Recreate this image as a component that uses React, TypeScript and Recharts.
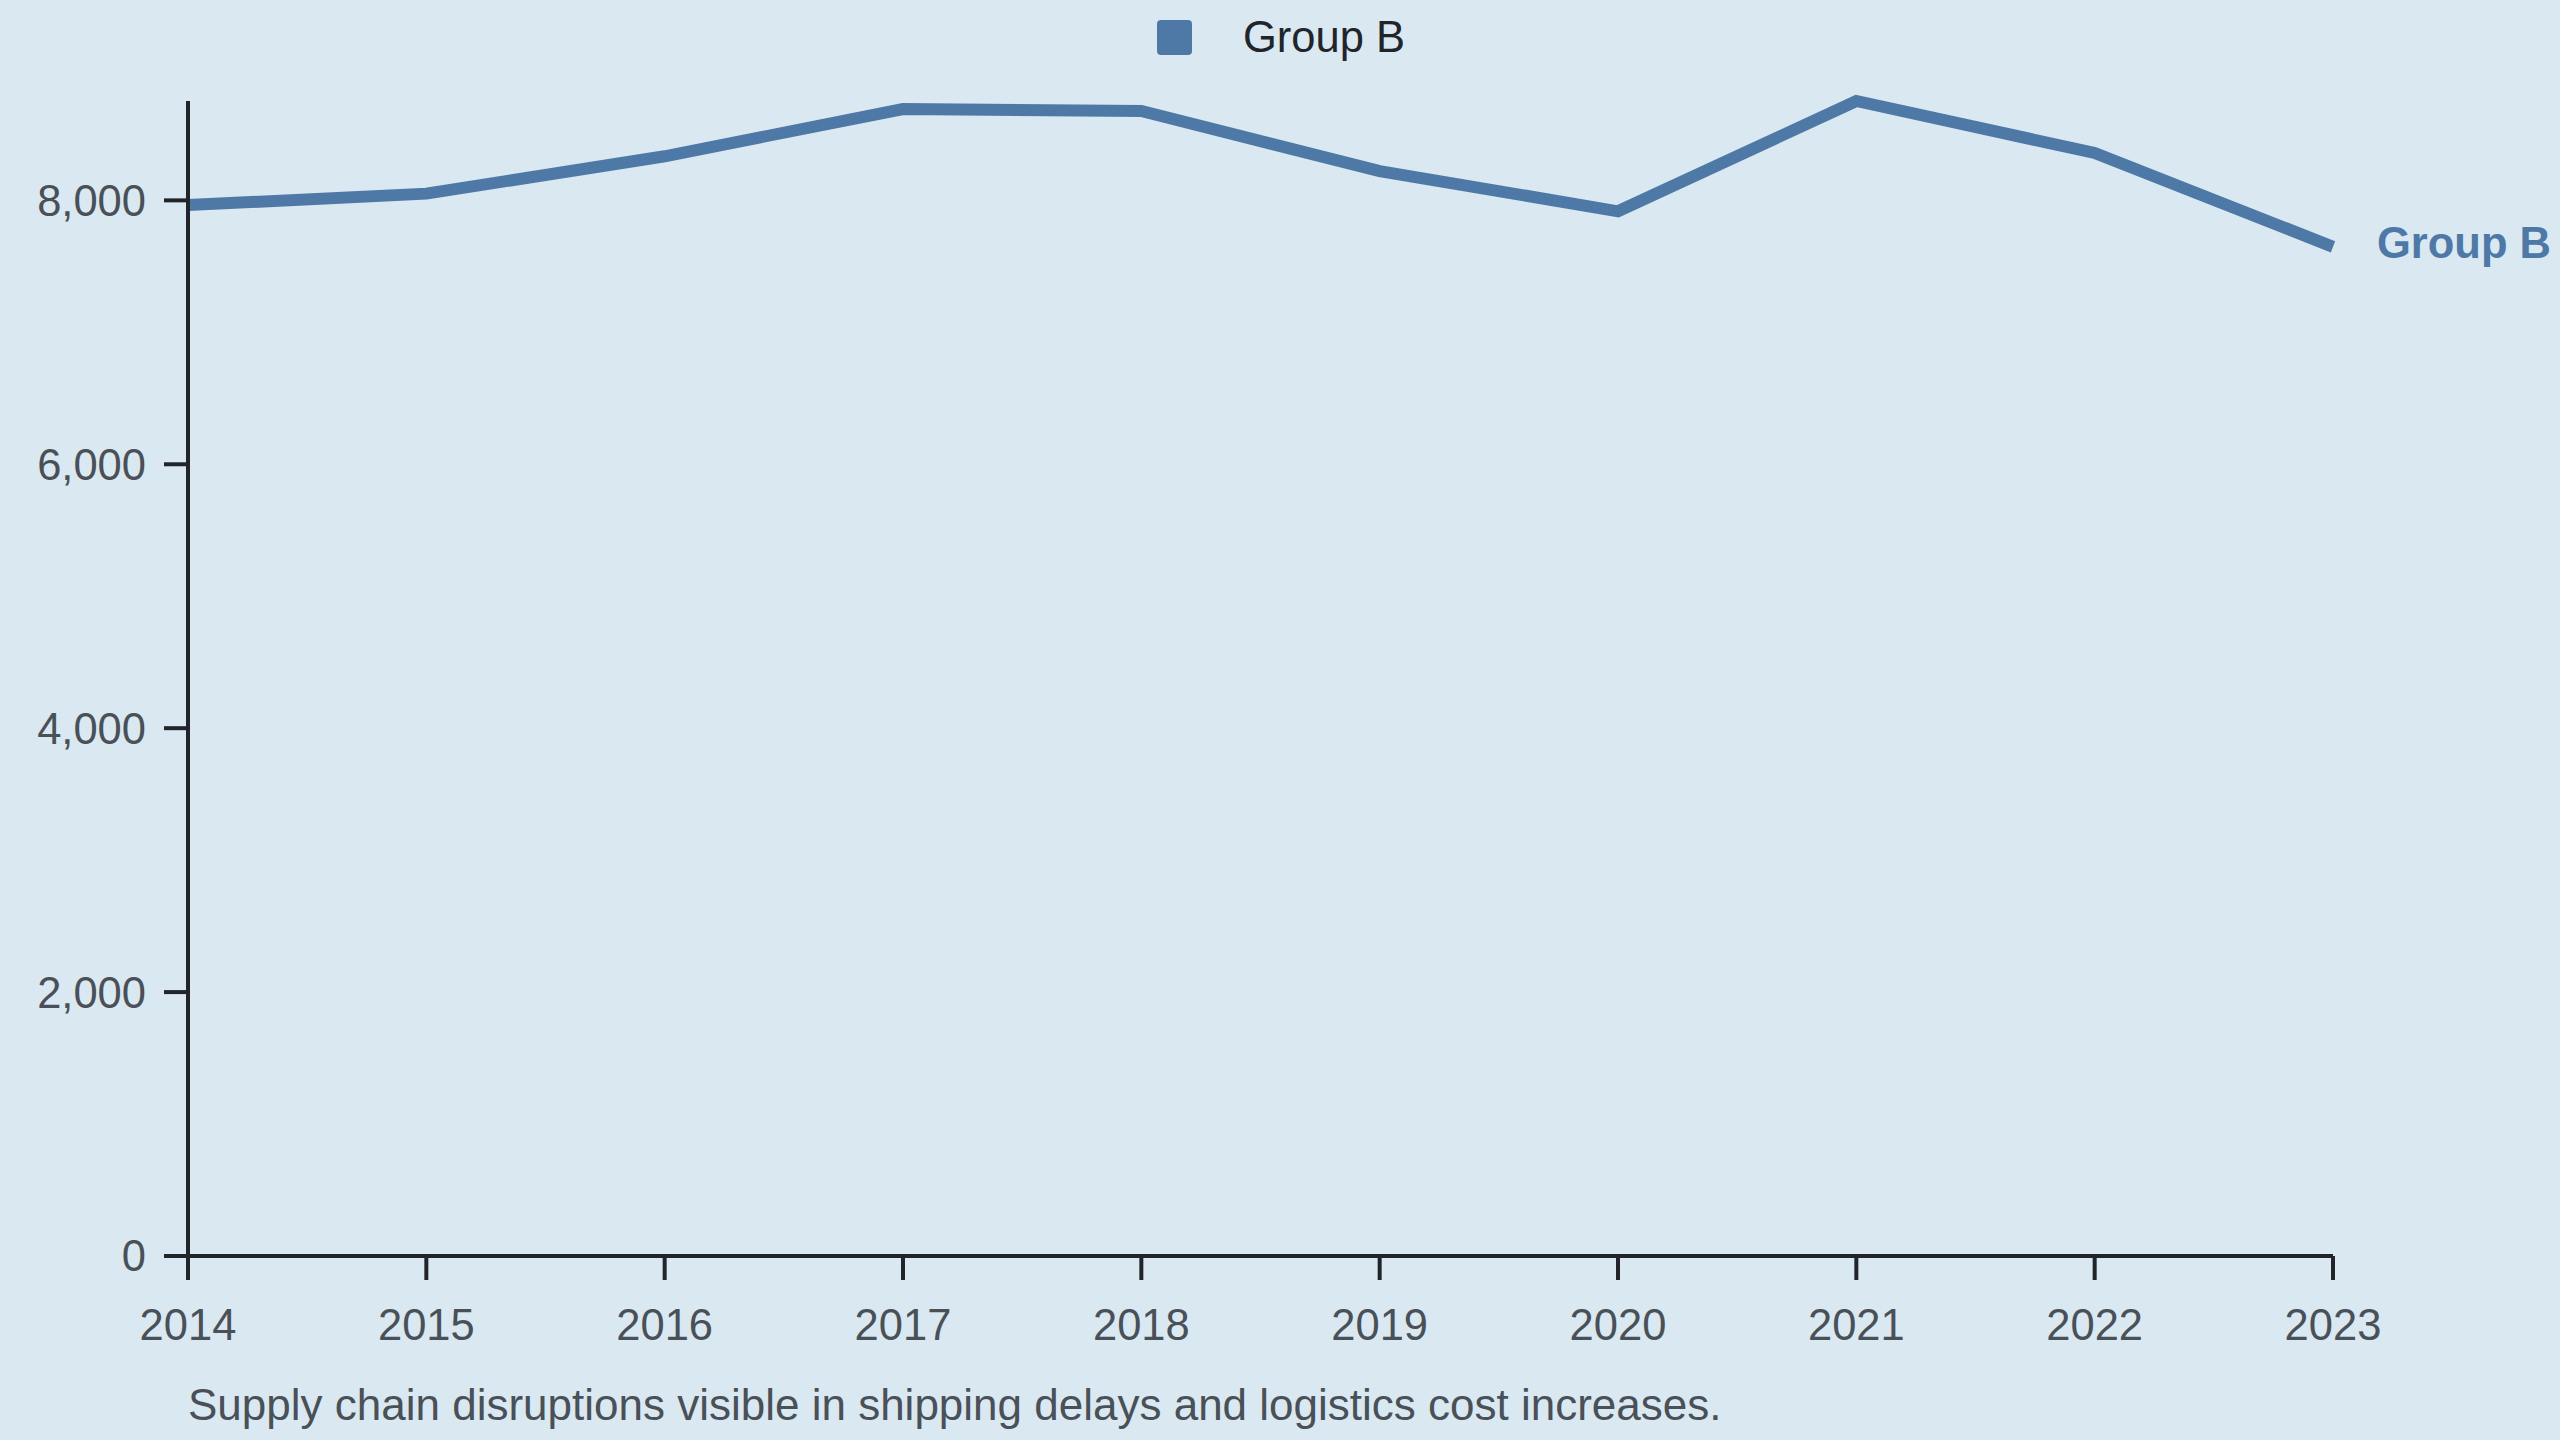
import React from 'react';
import { LineChart, Line, XAxis, YAxis, Legend } from 'recharts';

const years = ['2014', '2015', '2016', '2017', '2018', '2019', '2020', '2021', '2022', '2023'];
const groupB = [7964, 8051, 8334, 8692, 8677, 8222, 7917, 8753, 8359, 7648];
const yTicks = [0, 2000, 4000, 6000, 8000];
const seriesName = 'Group B';
const caption = 'Supply chain disruptions visible in shipping delays and logistics cost increases.';

const data = years.map((year, i) => ({ year, groupB: groupB[i] }));

const BG = '#d9e8f1';
const LINE = '#4e79a7';
const AXIS = '#212529';
const TICK_TEXT = '#495057';
const FONT = '"Liberation Sans", Arial, Helvetica, sans-serif';
const FS = 43.5;
const CAPTION_FS = 44;

const LegendContent = (props: any) => {
  const items = props.payload || [];
  return (
    <div style={{ position: 'relative', width: 2560, height: 80 }}>
      {items.map((it: any) => (
        <React.Fragment key={it.value}>
          <div
            style={{
              position: 'absolute',
              left: 1157,
              top: 20,
              width: 35,
              height: 35,
              borderRadius: 4,
              background: it.color,
            }}
          />
          <div
            style={{
              position: 'absolute',
              left: 1243,
              top: 16,
              fontSize: FS,
              lineHeight: 1,
              color: AXIS,
              whiteSpace: 'nowrap',
              fontFamily: FONT,
            }}
          >
            {it.value}
          </div>
        </React.Fragment>
      ))}
    </div>
  );
};

const EndLabel = (props: any) => {
  const { x, y, index } = props;
  if (index !== data.length - 1) return null;
  return (
    <text x={x + 44} y={y + 11} fill={LINE} fontSize={FS} fontWeight="bold" fontFamily={FONT} textAnchor="start">
      {seriesName}
    </text>
  );
};

export default function App() {
  return (
    <div
      style={{
        position: 'absolute',
        left: 0,
        top: 0,
        width: 2560,
        height: 1440,
        background: BG,
        fontFamily: FONT,
        overflow: 'hidden',
      }}
    >
      <LineChart width={2560} height={1440} data={data} margin={{ top: 101, right: 227, left: 0, bottom: 0 }}>
        <XAxis
          dataKey="year"
          interval={0}
          height={184}
          tickSize={24}
          tickMargin={29}
          axisLine={{ stroke: AXIS, strokeWidth: 4 }}
          tickLine={{ stroke: AXIS, strokeWidth: 4 }}
          tick={{ fill: TICK_TEXT, fontSize: FS, fontFamily: FONT }}
        />
        <YAxis
          width={188}
          domain={[0, 'dataMax']}
          ticks={yTicks}
          interval={0}
          tickSize={24}
          tickMargin={18}
          tickFormatter={(v: number) => v.toLocaleString('en-US')}
          axisLine={{ stroke: AXIS, strokeWidth: 4 }}
          tickLine={{ stroke: AXIS, strokeWidth: 4 }}
          tick={{ fill: TICK_TEXT, fontSize: FS, fontFamily: FONT }}
        />
        <Legend
          verticalAlign="middle"
          layout="horizontal"
          content={LegendContent}
          wrapperStyle={{ position: 'absolute', top: 0, left: 0, width: 2560, height: 80 }}
        />
        <Line
          type="linear"
          dataKey="groupB"
          name={seriesName}
          stroke={LINE}
          strokeWidth={12}
          dot={false}
          activeDot={false}
          isAnimationActive={false}
          label={EndLabel}
        />
      </LineChart>
      <div
        style={{
          position: 'absolute',
          left: 188,
          top: 1383,
          fontSize: CAPTION_FS,
          lineHeight: 1,
          color: TICK_TEXT,
          whiteSpace: 'nowrap',
          fontFamily: FONT,
        }}
      >
        {caption}
      </div>
    </div>
  );
}
